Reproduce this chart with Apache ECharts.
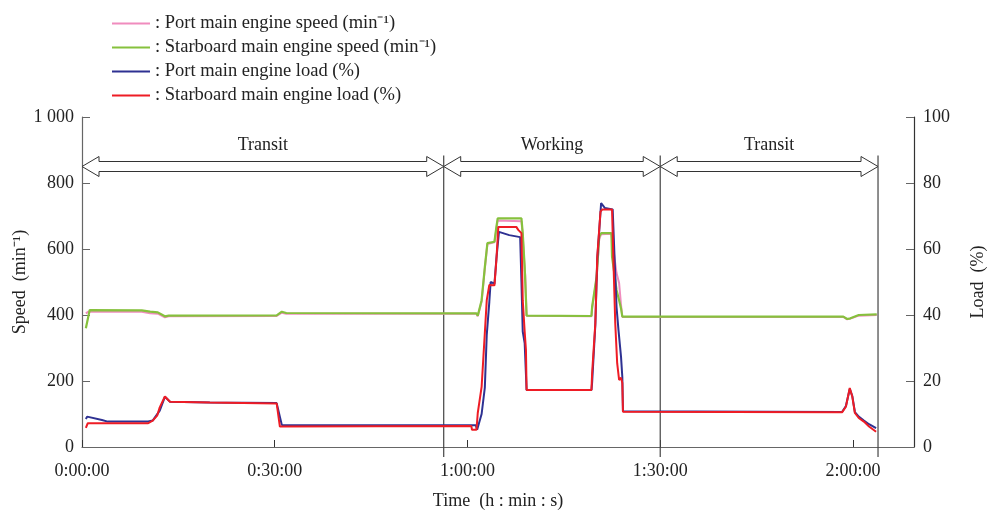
<!DOCTYPE html>
<html>
<head>
<meta charset="utf-8">
<title>Main engine speed and load</title>
<script src="https://cdn.jsdelivr.net/npm/echarts@6/dist/echarts.min.js"></script>
<style>
  html, body { margin: 0; padding: 0; background: #fff; }
  #chart { width: 987px; height: 512px; }
</style>
</head>
<body>
<div id="chart"></div>
<script>
// time in minutes, speed in min^-1, load in %
var portSpeed = [
  [0.6, 405], [1.0, 410], [9.3, 410], [10.6, 405], [11.8, 404], [12.9, 393], [13.5, 396],
  [30.3, 397], [31.1, 407], [31.8, 404], [61.4, 404], [61.6, 396], [61.9, 396],
  [62.2, 440], [62.7, 540], [63.1, 615], [64.2, 620], [64.5, 660], [64.7, 686],
  [68.4, 684], [68.6, 640], [68.9, 540], [69.0, 520], [69.2, 398], [79.3, 396],
  [79.4, 420], [80.1, 510], [80.5, 630], [80.8, 645], [82.4, 646], [82.7, 600],
  [83.2, 527], [83.6, 497], [83.9, 430], [84.1, 394], [118.5, 394], [119.1, 387],
  [119.6, 389], [120.9, 398], [123.7, 400]
];
var stbdSpeed = [
  [0.6, 360], [1.2, 415], [9.3, 414], [10.6, 410], [11.8, 408], [12.9, 396], [13.5, 398],
  [30.3, 399], [31.1, 410], [31.8, 406], [61.4, 405], [61.6, 398], [61.9, 397],
  [62.2, 445], [62.7, 545], [63.1, 618], [64.2, 622], [64.5, 667], [64.7, 693],
  [68.4, 693], [68.6, 648], [68.9, 545], [69.2, 398], [79.3, 397],
  [79.4, 425], [80.1, 516], [80.5, 637], [80.8, 648], [82.4, 648], [82.5, 577],
  [83.2, 476], [83.6, 445], [83.9, 420], [84.1, 395], [118.5, 395], [119.1, 388],
  [119.6, 390], [120.9, 400], [123.7, 402]
];
var portLoad = [
  [0.6, 8.5], [0.8, 9.2], [3.1, 8.2], [4.0, 7.7], [10.3, 7.7], [11.0, 8.0], [12.1, 11.0],
  [12.9, 15.2], [13.7, 13.7], [19.9, 13.5], [30.3, 13.3], [31.1, 6.7], [60.6, 6.6],
  [61.3, 6.6], [61.5, 5.2], [62.2, 10.0], [62.7, 18.0], [63.0, 34.0], [63.4, 44.0],
  [63.6, 50.0], [64.2, 49.5], [64.5, 57.0], [64.9, 65.2], [66.5, 64.2], [68.2, 63.6],
  [68.4, 50.0], [68.6, 35.0], [68.9, 31.5], [69.2, 17.3], [79.3, 17.3], [79.4, 19.5],
  [79.9, 37.0], [80.2, 57.0], [80.8, 73.9], [81.4, 72.4], [82.6, 72.0], [82.9, 57.0],
  [83.2, 42.4], [83.5, 35.5], [83.9, 27.3], [84.1, 21.2], [84.2, 10.8], [118.3, 10.6],
  [118.9, 12.4], [119.5, 17.6], [119.9, 15.4], [120.3, 10.6], [120.9, 9.2],
  [121.7, 8.0], [122.5, 6.9], [123.6, 5.7]
];
var stbdLoad = [
  [0.6, 5.8], [0.9, 7.2], [10.3, 7.2], [11.0, 8.0], [11.7, 9.5], [12.1, 12.0],
  [12.9, 15.3], [13.7, 13.7], [19.9, 13.5], [30.3, 13.2], [30.8, 6.2], [60.6, 6.4],
  [60.7, 5.2], [61.4, 5.2], [61.6, 10.3], [62.2, 18.2], [62.7, 34.5], [63.0, 44.5],
  [63.4, 49.1], [64.2, 49.0], [64.5, 56.7], [64.8, 66.7], [67.6, 66.7], [67.9, 65.8],
  [68.4, 64.8], [68.6, 44.5], [68.9, 35.0], [69.1, 29.4], [69.2, 17.3], [79.3, 17.3],
  [79.4, 22.4], [79.9, 37.5], [80.2, 57.6], [80.7, 71.3], [81.0, 72.0], [82.5, 72.0],
  [82.7, 57.6], [83.0, 37.5], [83.3, 25.4], [83.6, 20.3], [83.9, 21.0], [84.1, 19.4],
  [84.2, 10.7], [118.3, 10.5], [118.9, 12.2], [119.5, 17.9], [119.9, 15.2],
  [120.3, 10.3], [120.9, 8.8], [121.7, 7.7], [122.5, 6.2], [123.6, 4.6]
];

// operating phases (minutes)
var phaseNames = ['Transit', 'Working', 'Transit'];
var phaseStart = [0, 56.3, 90];
var phaseEnd = [56.3, 90, 123.9];
var arrowLevel = 850;   // speed level where the phase arrows sit
var phaseLabelLevel = 915;

var seriesNames = [
  'Port main engine speed (min\u207B\u00B9)',
  'Starboard main engine speed (min\u207B\u00B9)',
  'Port main engine load (%)',
  'Starboard main engine load (%)'
];

var font = "'Liberation Serif', 'Times New Roman', serif";
var textColor = '#222';
var axisColor = '#666';

function timeLabel(v) {
  var h = Math.floor(v / 60);
  var m = Math.round(v % 60);
  return h + ':' + (m < 10 ? '0' + m : m) + ':00';
}
function thousands(v) {
  return String(v).replace(/\B(?=(\d{3})+(?!\d))/g, ' ');
}

var phaseData = phaseNames.map(function (n, i) {
  return [phaseStart[i], phaseEnd[i], n];
});
var boundaryData = phaseEnd.map(function (t) { return [t]; });

var chart = echarts.init(document.getElementById('chart'));
var option = {
  animation: false,
  textStyle: { fontFamily: font },
  grid: { left: 82, right: 73, top: 117, bottom: 65, outerBoundsMode: 'none', containLabel: false },
  legend: {
    orient: 'vertical',
    left: 107,
    top: 9,
    itemWidth: 38,
    itemHeight: 2,
    itemGap: 5,
    icon: 'rect',
    data: seriesNames,
    formatter: function (name) { return ': ' + name; },
    textStyle: { fontFamily: font, fontSize: 18.5, color: textColor }
  },
  xAxis: {
    type: 'value',
    min: 0,
    max: 129.5,
    interval: 30,
    name: 'Time  (h : min : s)',
    nameLocation: 'middle',
    nameGap: 45,
    nameMoveOverlap: false,
    nameTextStyle: { fontFamily: font, fontSize: 18, color: textColor },
    axisLine: { lineStyle: { color: axisColor, width: 1.2 } },
    axisTick: { inside: true, length: 7, lineStyle: { color: '#333' } },
    axisLabel: {
      formatter: timeLabel, showMaxLabel: false, margin: 15,
      fontFamily: font, fontSize: 18, color: textColor
    },
    splitLine: { show: false }
  },
  yAxis: [
    {
      type: 'value',
      min: 0,
      max: 1000,
      interval: 200,
      name: 'Speed  (min\u207B\u00B9)',
      nameLocation: 'middle',
      nameRotate: 90,
      nameGap: 53,
      nameMoveOverlap: false,
      nameTextStyle: { fontFamily: font, fontSize: 18, color: textColor },
      axisLine: { show: true, lineStyle: { color: axisColor, width: 1.2 } },
      axisTick: { show: true, inside: true, length: 8, lineStyle: { color: axisColor } },
      axisLabel: { formatter: thousands, margin: 8, fontFamily: font, fontSize: 18, color: textColor },
      splitLine: { show: false }
    },
    {
      type: 'value',
      min: 0,
      max: 100,
      interval: 20,
      position: 'right',
      name: 'Load  (%)',
      nameLocation: 'middle',
      nameRotate: 90,
      nameGap: 55,
      nameMoveOverlap: false,
      nameTextStyle: { fontFamily: font, fontSize: 18, color: textColor },
      axisLine: { show: true, lineStyle: { color: '#333', width: 1.2 } },
      axisTick: { show: true, inside: true, length: 8, lineStyle: { color: axisColor } },
      axisLabel: { margin: 9, fontFamily: font, fontSize: 18, color: textColor },
      splitLine: { show: false }
    }
  ],
  series: [
    {
      name: seriesNames[0], type: 'line', yAxisIndex: 0, data: portSpeed,
      showSymbol: false, color: '#f08cbe', lineStyle: { width: 2 }
    },
    {
      name: seriesNames[1], type: 'line', yAxisIndex: 0, data: stbdSpeed,
      showSymbol: false, color: '#86c13d', lineStyle: { width: 2.2 }
    },
    {
      name: seriesNames[2], type: 'line', yAxisIndex: 1, data: portLoad,
      showSymbol: false, color: '#2e3192', lineStyle: { width: 2 }
    },
    {
      name: seriesNames[3], type: 'line', yAxisIndex: 1, data: stbdLoad,
      showSymbol: false, color: '#ee1c25', lineStyle: { width: 2 }
    },
    {
      // phase boundaries
      type: 'custom',
      silent: true,
      clip: false,
      data: boundaryData,
      renderItem: function (params, api) {
        var top = api.coord([api.value(0), arrowLevel]);
        var bot = api.coord([api.value(0), 0]);
        return {
          type: 'line',
          shape: { x1: top[0], y1: top[1] - 11, x2: bot[0], y2: bot[1] + 10 },
          style: { stroke: '#444', lineWidth: 1.2 }
        };
      }
    },
    {
      // double headed phase arrows
      type: 'custom',
      silent: true,
      clip: false,
      data: phaseData,
      renderItem: function (params, api) {
        var a = api.coord([api.value(0), arrowLevel]);
        var b = api.coord([api.value(1), arrowLevel]);
        var mid = api.coord([(api.value(0) + api.value(1)) / 2, phaseLabelLevel]);
        var y = a[1], x0 = a[0], x1 = b[0];
        var hl = 17, hh = 10, sh = 5;
        return {
          type: 'group',
          children: [
            {
              type: 'polygon',
              shape: {
                points: [
                  [x0, y], [x0 + hl, y - hh], [x0 + hl, y - sh], [x1 - hl, y - sh],
                  [x1 - hl, y - hh], [x1, y], [x1 - hl, y + hh], [x1 - hl, y + sh],
                  [x0 + hl, y + sh], [x0 + hl, y + hh]
                ]
              },
              style: { fill: '#fff', stroke: '#333', lineWidth: 1 }
            },
            {
              type: 'text',
              x: mid[0],
              y: mid[1],
              style: {
                text: phaseNames[params.dataIndex],
                fontFamily: font, fontSize: 18, fill: textColor,
                align: 'center', verticalAlign: 'middle'
              }
            }
          ]
        };
      }
    }
  ]
};
option && chart.setOption(option);
</script>
</body>
</html>
